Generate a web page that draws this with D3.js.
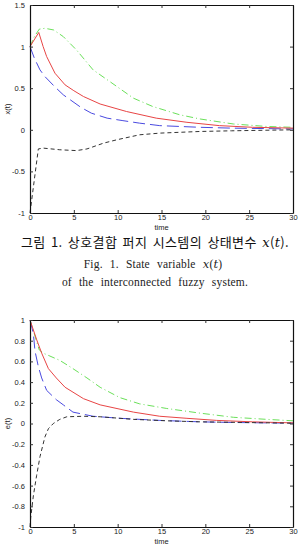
<!DOCTYPE html>
<html>
<head>
<meta charset="utf-8">
<script src="https://cdn.jsdelivr.net/npm/d3@7"></script>
<style>
  body { margin: 0; background: #fff; }
  svg { display: block; }
  .tick text { font-family: "Liberation Sans", Arial, sans-serif; font-size: 7.5px; fill: #222; }
  .cap-ko { font-family: "Noto Sans CJK KR", sans-serif; font-size: 13px; fill: #111; letter-spacing: 0.4px; word-spacing: 2px; }
  .cap-en { font-family: "Liberation Serif", serif; font-size: 11.5px; fill: #222; word-spacing: 4px; letter-spacing: 0.2px; }
  .math { font-family: "DejaVu Serif", "Liberation Serif", serif; font-style: italic; }
</style>
</head>
<body>
<script>
'use strict';

// time grid shared by every series
var xTicks = [0, 5, 10, 15, 20, 25, 30];
var topYTicks = [-1, -0.5, 0, 0.5, 1, 1.5];
var botYTicks = [-1, -0.8, -0.6, -0.4, -0.2, 0, 0.2, 0.4, 0.6, 0.8, 1];

// x(t) - state variables
var xRed = [[0, 1.0], [1.0, 1.17], [1.5, 1.0], [1.9, 0.88], [2.85, 0.68], [4, 0.54], [5, 0.47], [6.1, 0.40], [8, 0.31], [11, 0.22], [14.4, 0.14], [17.9, 0.09], [21.6, 0.05], [25.4, 0.03], [30, 0.02]];
var xBlue = [[0, 1.0], [0.5, 0.86], [1.14, 0.72], [1.7, 0.64], [2.8, 0.52], [3.8, 0.42], [4.6, 0.36], [5.8, 0.27], [7, 0.2], [8.8, 0.14], [10.6, 0.11], [12.5, 0.08], [14.8, 0.05], [19.4, 0.03], [23, 0.02], [30, 0.01]];
var xGreen = [[0, 1.0], [0.5, 1.12], [1.06, 1.21], [1.7, 1.22], [2.7, 1.2], [3.8, 1.12], [5.3, 0.96], [7.2, 0.72], [9.1, 0.58], [11.8, 0.38], [14, 0.28], [17.1, 0.18], [19.4, 0.13], [23.2, 0.07], [27, 0.04], [30, 0.03]];
var xBlack = [[0, -1.0], [0.95, -0.23], [1.5, -0.22], [3.4, -0.24], [5.3, -0.25], [6.5, -0.23], [8.4, -0.16], [9.9, -0.12], [12.5, -0.06], [14.8, -0.04], [19.4, -0.02], [23, -0.012], [30, 0.0]];

// e(t) - errors
var eRed = [[0, 1.0], [0.76, 0.81], [1.33, 0.68], [2.1, 0.53], [3.0, 0.44], [4, 0.35], [6.1, 0.24], [8, 0.18], [11.8, 0.11], [14.8, 0.07], [17.9, 0.05], [21.3, 0.03], [25.4, 0.016], [30, 0.006]];
var eGreen = [[0, 1.0], [1.06, 0.71], [1.5, 0.68], [3.4, 0.61], [4.9, 0.53], [6.5, 0.44], [8, 0.35], [10.25, 0.25], [12.5, 0.19], [15.6, 0.145], [19.4, 0.1], [23.2, 0.06], [27, 0.04], [30, 0.026]];
var eBlue = [[0, 1.0], [0.38, 0.87], [0.57, 0.7], [0.95, 0.55], [1.33, 0.44], [1.9, 0.32], [3, 0.23], [3.8, 0.18], [4.9, 0.11], [7.2, 0.07], [10.3, 0.05], [14.8, 0.03], [19.4, 0.016], [23, 0.01], [30, 0.003]];
var eBlack = [[0, -1.0], [0.08, -0.91], [0.38, -0.7], [0.76, -0.5], [1.14, -0.32], [1.7, -0.13], [2.1, -0.05], [2.66, 0.0], [3.4, 0.04], [4.2, 0.065], [6.1, 0.07], [8, 0.065], [11.8, 0.04], [15.6, 0.026], [19.4, 0.016], [30, 0.003]];

var styles = {
  red: { color: '#e84545', dash: null },
  blue: { color: '#4a4ae0', dash: '12,5' },
  green: { color: '#6be05a', dash: '7,3,1,3' },
  black: { color: '#333', dash: '4,3' }
};

var W = 306, H = 556;
var svg = d3.select('body').append('svg').attr('width', W).attr('height', H);

function drawPanel(top, bottom, yDomain, yTicks, yLabel, series) {
  var left = 30, right = 293;
  var x = d3.scaleLinear().domain([0, 30]).range([left, right]);
  var y = d3.scaleLinear().domain(yDomain).range([bottom, top]);
  var g = svg.append('g');

  var line = d3.line().x(function (d) { return x(d[0]); }).y(function (d) { return y(d[1]); });

  series.forEach(function (s) {
    g.append('path').datum(s.data)
      .attr('d', line)
      .attr('fill', 'none')
      .attr('stroke', styles[s.style].color)
      .attr('stroke-width', 1)
      .attr('stroke-dasharray', styles[s.style].dash);
  });

  var fmt = function (d) { return String(+d.toFixed(1)); };

  // matlab-like box with inward ticks on all sides
  g.append('g').attr('transform', 'translate(0,' + bottom + ')')
    .call(d3.axisBottom(x).tickValues(xTicks).tickSizeInner(-3).tickSizeOuter(0).tickPadding(2));
  g.append('g').attr('transform', 'translate(0,' + top + ')')
    .call(d3.axisTop(x).tickValues(xTicks).tickSizeInner(-3).tickSizeOuter(0).tickFormat(''));
  g.append('g').attr('transform', 'translate(' + left + ',0)')
    .call(d3.axisLeft(y).tickValues(yTicks).tickSizeInner(-3).tickSizeOuter(0).tickPadding(5).tickFormat(fmt));
  g.append('g').attr('transform', 'translate(' + right + ',0)')
    .call(d3.axisRight(y).tickValues(yTicks).tickSizeInner(-3).tickSizeOuter(0).tickFormat(''));
  g.selectAll('.domain').attr('stroke', '#111').attr('stroke-width', 1.2);
  g.selectAll('.tick line').attr('stroke', '#333');

  g.append('text').attr('x', (left + right) / 2).attr('y', bottom + 17)
    .attr('text-anchor', 'middle')
    .style('font-family', '"Liberation Sans", Arial, sans-serif').style('font-size', '7.5px').attr('fill', '#222')
    .text('time');
  g.append('text').attr('transform', 'translate(10,' + (top + bottom) / 2 + ') rotate(-90)')
    .attr('text-anchor', 'middle')
    .style('font-family', '"Liberation Sans", Arial, sans-serif').style('font-size', '7.5px').attr('fill', '#222')
    .text(yLabel);
}

drawPanel(5, 213, [-1, 1.5], topYTicks, 'x(t)', [
  { data: xGreen, style: 'green' },
  { data: xBlue, style: 'blue' },
  { data: xRed, style: 'red' },
  { data: xBlack, style: 'black' }
]);

drawPanel(320, 527, [-1, 1], botYTicks, 'e(t)', [
  { data: eGreen, style: 'green' },
  { data: eBlue, style: 'blue' },
  { data: eRed, style: 'red' },
  { data: eBlack, style: 'black' }
]);

// caption
var ko = svg.append('text').attr('class', 'cap-ko').attr('x', 155).attr('y', 247).attr('text-anchor', 'middle');
ko.append('tspan').text('그림 1. 상호결합 퍼지 시스템의 상태변수 ');
ko.append('tspan').attr('class', 'math').text('x');
ko.append('tspan').text('(');
ko.append('tspan').attr('class', 'math').text('t');
ko.append('tspan').text(').');

var en1 = svg.append('text').attr('class', 'cap-en').attr('x', 153).attr('y', 268).attr('text-anchor', 'middle');
en1.append('tspan').text('Fig. 1. State variable ');
en1.append('tspan').attr('class', 'math').text('x');
en1.append('tspan').text('(');
en1.append('tspan').attr('class', 'math').text('t');
en1.append('tspan').text(')');

svg.append('text').attr('class', 'cap-en').attr('x', 155).attr('y', 286).attr('text-anchor', 'middle')
  .text('of the interconnected fuzzy system.');
</script>
</body>
</html>
